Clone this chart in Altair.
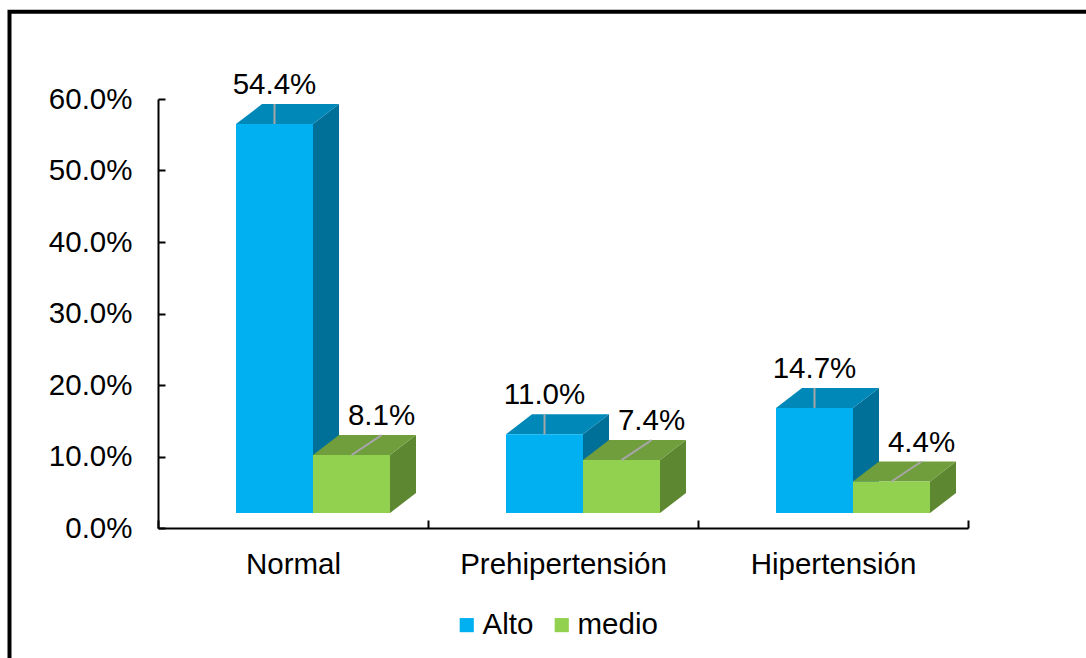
import json
import altair as alt
import pandas as pd

# ---------------- data ----------------
categories = ["Normal", "Prehipertensión", "Hipertensión"]
series = ["Alto", "medio"]
alto = [54.4, 11.0, 14.7]
medio = [8.1, 7.4, 4.4]
y_ticks = [0, 10, 20, 30, 40, 50, 60]

# ---------------- style / geometry ----------------
FONT = "Liberation Sans"
FS = 29.5
W, H = 810, 429
Y_MAX = 60
PX_PER_CAT = W / len(categories)
PX_PER_PCT = H / Y_MAX
BAR_START = 78 / PX_PER_CAT      # gap from category start to first bar
BAR_W = 77 / PX_PER_CAT          # bar width
DX = 26 / PX_PER_CAT             # 3-D depth (x)
DY = 20 / PX_PER_PCT             # 3-D depth (y)
FLOOR = 15 / PX_PER_PCT          # floor lift of front faces
LEAD_END = 20 / PX_PER_PCT
LABEL_UP = 39 / PX_PER_PCT
MEDIO_LABEL_DX = 30 / PX_PER_CAT

COLORS = {
    "Alto": {"front": "#00B0F0", "top": "#0088B8", "side": "#007099"},
    "medio": {"front": "#92D050", "top": "#709E3C", "side": "#5E8732"},
}

XS = alt.Scale(domain=[0, len(categories)], nice=False, zero=False)
YS = alt.Scale(domain=[0, Y_MAX], nice=False, zero=False)


def faces(values, k, name):
    front, top, side = [], [], []
    for i, (cat, v) in enumerate(zip(categories, values)):
        x0 = i + BAR_START + k * BAR_W
        x1 = x0 + BAR_W
        b = FLOOR
        t = v + FLOOR
        front += [dict(cat=cat, series=name, x=x0, y=b, y2=t),
                  dict(cat=cat, series=name, x=x1, y=b, y2=t)]
        top += [dict(cat=cat, x=x0, y=t, y2=t),
                dict(cat=cat, x=x0 + DX, y=t, y2=t + DY),
                dict(cat=cat, x=x1, y=t, y2=t + DY),
                dict(cat=cat, x=x1 + DX, y=t + DY, y2=t + DY)]
        side += [dict(cat=cat, x=x1, y=b, y2=t),
                 dict(cat=cat, x=x1 + DX, y=b + DY, y2=t + DY)]
    return pd.DataFrame(front), pd.DataFrame(top), pd.DataFrame(side)


legend = alt.Legend(orient="none", legendX=294, legendY=511, direction="horizontal",
                    symbolType="square", symbolSize=200, symbolStrokeWidth=0,
                    labelFontSize=FS, labelFont=FONT, labelColor="black",
                    title=None, columnPadding=13, labelOffset=1, padding=0)


def area_layer(df, color=None, front_series=False):
    enc = dict(
        x=alt.X("x:Q", scale=XS, axis=None),
        y=alt.Y("y:Q", scale=YS, axis=None, stack=None),
        y2="y2:Q",
        detail="cat:N",
    )
    if front_series:
        enc["color"] = alt.Color("series:N",
                                 scale=alt.Scale(domain=series,
                                                 range=[COLORS[s]["front"] for s in series]),
                                 legend=legend)
    else:
        enc["color"] = alt.value(color)
    return alt.Chart(df).mark_area(orient="vertical", opacity=1).encode(**enc)


layers = []

# frame border
border = alt.Chart(pd.DataFrame({"a": [0]})).mark_rect(
    fill=None, stroke="black", strokeWidth=4
).encode(x=alt.value(9.5 - 158), x2=alt.value(1300), y=alt.value(11.7 - 99), y2=alt.value(800))
layers.append(border)

for k, (name, vals) in enumerate(zip(series, [alto, medio])):
    f, t, s = faces(vals, k, name)
    layers.append(area_layer(s, COLORS[name]["side"]))
    layers.append(area_layer(t, COLORS[name]["top"]))
    layers.append(area_layer(f, front_series=True))

# labels and leader lines
lab_rows = []
for k, (name, vals) in enumerate(zip(series, [alto, medio])):
    for i, (cat, v) in enumerate(zip(categories, vals)):
        cx = i + BAR_START + k * BAR_W + BAR_W / 2
        lx = cx + (MEDIO_LABEL_DX if k == 1 else 0)
        lab_rows.append(dict(x=cx, y=v + FLOOR, x2=lx, y2=v + FLOOR + LEAD_END,
                             lx=lx, ly=v + FLOOR + LABEL_UP, text=f"{v:.1f}%"))
lab_df = pd.DataFrame(lab_rows)

leaders = alt.Chart(lab_df).mark_rule(color="#A6A6A6", strokeWidth=2).encode(
    x=alt.X("x:Q", scale=XS, axis=None), y=alt.Y("y:Q", scale=YS, axis=None),
    x2="x2:Q", y2="y2:Q")
labels = alt.Chart(lab_df).mark_text(fontSize=FS, font=FONT, color="black",
                                      align="center", baseline="middle").encode(
    x=alt.X("lx:Q", scale=XS, axis=None), y=alt.Y("ly:Q", scale=YS, axis=None), text="text:N")
layers += [leaders, labels]

# axes
cat_js = json.dumps(categories, ensure_ascii=False)
axis_df = pd.DataFrame({"x": [0.0], "y": [0.0]})
axis_main = alt.Chart(axis_df).mark_point(opacity=0).encode(
    x=alt.X("x:Q", scale=XS, title=None, axis=alt.Axis(
        orient="bottom", values=[i + 0.5 for i in range(len(categories))],
        labelExpr=f"{cat_js}[floor(datum.value)]", tickSize=0, grid=False,
        domainColor="black", domainWidth=2, labelFontSize=FS, labelFont=FONT,
        labelColor="black", labelPadding=22, labelFlush=False, labelOverlap=False,
        labelLimit=0)),
    y=alt.Y("y:Q", scale=YS, title=None, axis=alt.Axis(
        orient="left", values=y_ticks, labelExpr="format(datum.value, '.1f') + '%'",
        tickSize=0, grid=False, domainColor="black", domainWidth=2,
        labelFontSize=FS, labelFont=FONT, labelColor="black", labelPadding=26,
        labelLimit=0)),
)
axis_ticks = alt.Chart(axis_df).mark_point(opacity=0).encode(
    x=alt.X("x:Q", scale=XS, title=None, axis=alt.Axis(
        orient="top", offset=-H, values=list(range(len(categories) + 1)),
        labels=False, domain=False, grid=False, tickSize=8, tickWidth=2, tickColor="black")),
    y=alt.Y("y:Q", scale=YS, title=None, axis=alt.Axis(
        orient="right", offset=-W, values=y_ticks,
        labels=False, domain=False, grid=False, tickSize=7, tickWidth=2, tickColor="black")),
)
layers += [axis_main, axis_ticks]

chart = alt.layer(*layers).resolve_axis(x="independent", y="independent").properties(
    width=W, height=H,
    autosize=alt.AutoSizeParams(type="none"),
    padding={"left": 158, "top": 99, "right": 1086 - 158 - W, "bottom": 658 - 99 - H},
    background="white",
).configure(font=FONT).configure_view(stroke=None)

chart.save("out.html", embed_options={"renderer": "svg", "actions": False})
